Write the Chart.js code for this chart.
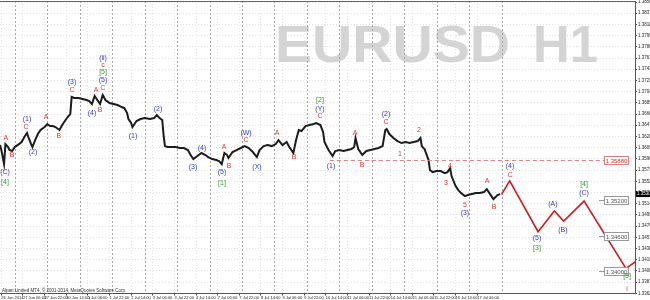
<!DOCTYPE html>
<html><head><meta charset="utf-8">
<script src="https://cdn.jsdelivr.net/npm/chart.js@4"></script>
<style>html,body{margin:0;padding:0;background:#fff;overflow:hidden}</style>
</head><body>
<canvas id="c" width="650" height="300"></canvas>
<script>
// ---------- data ----------
const barIdx = [
 0,1,3,4,6,7,9,11,13,16,
 18,20,21,23,24,26,28,30,33,35,
 37,39,41,44,46,48,50,52,53,55,
 58,61,64,66,68,70,72,74,76,78,
 81,84,87,90,92,94,95,97,98,101,
 104,107,111,114,116,118,120,121,122,124,
 127,130,133,136,139,141,143,145,147,149,
 152,154,157,160,162,164,166,168,169,172,
 175,178,181,184,187,190,192,195,198,201,
 204,206,209,212,214,217,219,221,223,226,
 229,232,234,237,239,240,243,246,248,251,
 254,257,260,262,263,265,268,271,274,277,
 280,283,285,286,288,291,294,297,300,303,
 306,309,311,312,314,317,318,320,323,326,
 329,331,333,334,337,339,341,344,346,349,
 352,355,358,360,362,365,368,370];
const closePrice = [
 1.36134,1.36050,1.35812,1.36151,1.36101,1.36050,1.36033,1.36101,1.36134,1.36185,
 1.36270,1.36338,1.36270,1.36151,1.36101,1.36219,1.36321,1.36389,1.36440,1.36491,
 1.36457,1.36457,1.36440,1.36389,1.36474,1.36542,1.36609,1.36660,1.36949,1.36932,
 1.36932,1.36915,1.36898,1.36881,1.36830,1.36966,1.36898,1.36830,1.36983,1.36898,
 1.36847,1.36830,1.36813,1.36779,1.36762,1.36677,1.36575,1.36508,1.36440,1.36542,
 1.36575,1.36592,1.36575,1.36592,1.36643,1.36592,1.36559,1.36304,1.36117,1.36101,
 1.36101,1.36101,1.36084,1.36084,1.36050,1.35965,1.35897,1.35931,1.35965,1.35999,
 1.35965,1.35931,1.35897,1.35880,1.35863,1.35812,1.35999,1.35965,1.35914,1.36016,
 1.36050,1.36084,1.36117,1.36084,1.36016,1.35931,1.36050,1.36117,1.36134,1.36117,
 1.36151,1.36219,1.36134,1.36185,1.36101,1.35999,1.36219,1.36389,1.36372,1.36457,
 1.36474,1.36491,1.36508,1.36474,1.36355,1.36185,1.36050,1.35948,1.36033,1.36050,
 1.36033,1.36050,1.36067,1.36101,1.36253,1.36067,1.35965,1.36033,1.36050,1.36067,
 1.36084,1.36117,1.36389,1.36406,1.36321,1.36253,1.36202,1.36168,1.36185,1.36168,
 1.36185,1.36202,1.36253,1.36117,1.36067,1.35880,1.35710,1.35676,1.35693,1.35693,
 1.35659,1.35676,1.35744,1.35608,1.35439,1.35371,1.35320,1.35269,1.35286,1.35303,
 1.35320,1.35320,1.35337,1.35388,1.35320,1.35218,1.35286,1.35303];

const forecastIdx   = [371, 377, 398, 410, 417, 432, 463, 471];
const forecastPrice = [1.35298, 1.35529, 1.34664, 1.35015, 1.34845, 1.35184, 1.34043, 1.34172];

const xTickBars = [1,17,33,49,65,81,97,113,129,145,161,177,193,209,225,241,257,273,289,305,321,337,353];
const xTickLabels = ["26 Jun 2014","27 Jun 06:00","27 Jun 22:00","30 Jun 14:00","1 Jul 06:00","1 Jul 22:00",
 "2 Jul 14:00","3 Jul 06:00","3 Jul 22:00","4 Jul 14:00","7 Jul 06:00","7 Jul 22:00","8 Jul 14:00",
 "9 Jul 06:00","9 Jul 22:00","10 Jul 14:00","11 Jul 06:00","11 Jul 22:00","14 Jul 14:00","15 Jul 06:00",
 "15 Jul 22:00","16 Jul 14:00","17 Jul 06:00"];
const daySeparators = [11,35,59,83,107,131,155,179,203,227,251,275,299,323,347,371];
const yTickValues = [1.38560,1.38370,1.38180,1.37990,1.37800,1.37610,1.37420,1.37230,1.37040,
 1.36850,1.36660,1.36470,1.36280,1.36090,1.35900,1.35710,1.35520,1.35330,1.35140,1.34950,
 1.34760,1.34570,1.34380,1.34190,1.34000,1.33810,1.33620];

const levelValues = [1.35880, 1.35200, 1.34600, 1.34000];
const levelTexts  = ["1.35880", "1.35200", "1.34600", "1.34000"];
const levelStartBar = 244;

const redWaves = [["A",4.4,1.36253],["B",8.9,1.35965],["C",19.2,1.36440],["A",34,1.36609],["B",43.6,1.36287],
 ["C",53.3,1.37067],["A",71,1.37067],["B",74,1.36728],["C",76.2,1.37101],["c",76.2,1.37492],
 ["A",165.7,1.36101],["B",169.4,1.35778],["C",182,1.36219],["A",204.9,1.36338],["B",217.5,1.35931],
 ["C",236.7,1.36626],["A",262.6,1.36338],["B",267.8,1.35795],["C",285.5,1.36525],["1",295.9,1.35982],
 ["2",309.9,1.36389],["3",329.9,1.35490],["4",332.8,1.35778],["5",343.9,1.35117],["A",360.2,1.35524],
 ["B",365.4,1.35083],["C",377.2,1.35626],["i",463.8,1.33692]];
const blueWaves = [["(C)",3.7,1.35676],["(1)",20,1.36576],["(2)",24.4,1.36016],["(3)",53.3,1.37203],
 ["(4)",68,1.36677],["(5)",76.2,1.37237],["(ii)",76.2,1.37610],["(1)",98.4,1.36287],["(2)",116.9,1.36745],
 ["(3)",142.8,1.35761],["(4)",149.4,1.36084],["(5)",164.2,1.35676],["(W)",182,1.36338],["(X)",190.1,1.35761],
 ["(Y)",236.7,1.36745],["(1)",244.8,1.35778],["(2)",285.5,1.36660],["(3)",343.9,1.34981],["(4)",377.2,1.35778],
 ["(5)",397.2,1.34557],["(A)",409,1.35134],["(B)",416.4,1.34693],["(C)",432,1.35320]];
const greenWaves = [["[4]",3.7,1.35507],["[5]",76.2,1.37373],["[1]",164.2,1.35490],["[2]",236.7,1.36898],
 ["[3]",397.2,1.34387],["[4]",432,1.35473],["[5]",463.8,1.33912]];

// ---------- drawing ----------
const FONT = '"Liberation Sans", Arial, sans-serif';

function drawFit(ctx, t, x, yb, w) {
  const m = ctx.measureText(t).width;
  ctx.save(); ctx.translate(x, yb); ctx.scale(w / m, 1); ctx.fillText(t, 0, 0); ctx.restore();
}

const overlay = {
  id: 'overlay',
  beforeDraw(chart) {
    const c = chart.ctx; c.save(); c.fillStyle = '#fff'; c.fillRect(0, 0, chart.width, chart.height); c.restore();
  },
  beforeDatasetsDraw(chart) {
    const {ctx, chartArea: a, scales: {x}} = chart;
    ctx.save();
    ctx.fillStyle = '#d4d4d4';
    ctx.font = 'bold 52px ' + FONT;
    ctx.textBaseline = 'alphabetic';
    drawFit(ctx, 'EURUSD', 275, 62, 235);
    drawFit(ctx, 'H1', 533, 62, 65);
    ctx.strokeStyle = '#a6a6a6'; ctx.lineWidth = 1; ctx.setLineDash([2, 2]);
    daySeparators.forEach(b => {
      const px = Math.round(x.getPixelForValue(b)) + 0.5;
      ctx.beginPath(); ctx.moveTo(px, a.top); ctx.lineTo(px, a.bottom); ctx.stroke();
    });
    ctx.restore();
  },
  afterDatasetsDraw(chart) {
    const {ctx, chartArea: a, scales: {x, y}} = chart;
    ctx.save();
    // level lines + boxes
    levelValues.forEach((v, k) => {
      const py = Math.round(y.getPixelForValue(v)) + 0.5;
      const bw = 24, bh = 8, bx = a.right - 31;
      const red = k === 0;
      ctx.lineWidth = 1;
      ctx.strokeStyle = red ? '#e58080' : '#9a9a9a';
      ctx.beginPath();
      if (red) { ctx.setLineDash([4, 3]); ctx.moveTo(x.getPixelForValue(levelStartBar), py); }
      else { ctx.setLineDash([]); ctx.moveTo(bx - 5, py); }
      ctx.lineTo(bx, py); ctx.stroke();
      ctx.setLineDash([]);
      ctx.fillStyle = '#fff';
      ctx.fillRect(bx, py - bh / 2, bw, bh);
      ctx.strokeRect(bx + 0.5, py - bh / 2, bw, bh);
      ctx.fillStyle = red ? '#d03030' : '#555';
      ctx.font = '6px ' + FONT; ctx.textAlign = 'center'; ctx.textBaseline = 'middle';
      ctx.fillText(levelTexts[k], bx + bw / 2 + 0.5, py + 0.5);
    });
    // wave labels
    ctx.font = '7px ' + FONT; ctx.textAlign = 'center'; ctx.textBaseline = 'middle';
    const put = (arr, col) => { ctx.fillStyle = col; arr.forEach(([t, b, p]) => ctx.fillText(t, x.getPixelForValue(b), y.getPixelForValue(p))); };
    put(redWaves, '#e03434');
    put(blueWaves, '#3737d8');
    put(greenWaves, '#2f9a2f');
    // copyright
    ctx.fillStyle = '#333'; ctx.font = '4.5px ' + FONT; ctx.textAlign = 'left';
    ctx.fillText('Alpari Limited MT4, \u00A9 2001-2014, MetaQuotes Software Corp.', a.left + 2, a.bottom - 3);
    ctx.restore();
  },
  afterDraw(chart) {
    const {ctx, chartArea: a, scales: {y}} = chart;
    ctx.save();
    ctx.strokeStyle = '#666'; ctx.lineWidth = 1;
    ctx.beginPath(); ctx.moveTo(0, a.top + 0.5); ctx.lineTo(a.right, a.top + 0.5); ctx.stroke();
    const last = closePrice[closePrice.length - 1];
    const py = y.getPixelForValue(last);
    ctx.fillStyle = '#000'; ctx.fillRect(a.right + 1, py - 3, 15, 6);
    ctx.fillStyle = '#fff'; ctx.font = '4.5px ' + FONT; ctx.textAlign = 'left'; ctx.textBaseline = 'middle';
    ctx.fillText(last.toFixed(5), a.right + 2, py);
    ctx.restore();
  }
};

new Chart(document.getElementById('c'), {
  type: 'line',
  data: {
    datasets: [
      { data: barIdx.map((b, j) => ({x: b, y: closePrice[j]})), borderColor: '#1c1c1c', borderWidth: 2,
        pointRadius: 0, tension: 0 },
      { data: forecastIdx.map((b, j) => ({x: b, y: forecastPrice[j]})), borderColor: '#d41a1a', borderWidth: 1.6,
        pointRadius: 0, tension: 0 }
    ]
  },
  options: {
    responsive: false, animation: false, devicePixelRatio: 1,
    layout: { padding: {top: 1, left: 0, right: 0, bottom: 0} },
    plugins: { legend: {display: false}, tooltip: {enabled: false} },
    scales: {
      x: {
        type: 'linear', min: 0, max: 469.7,
        afterBuildTicks: s => { s.ticks = xTickBars.map(v => ({value: v})); },
        afterFit: s => { s.height = 6.5; s.paddingLeft = 0; s.paddingRight = 0; },
        ticks: { callback: (v, i) => xTickLabels[i], font: {size: 4, family: FONT}, color: '#222',
                 align: 'start', maxRotation: 0, minRotation: 0, autoSkip: false, padding: 0 },
        grid: { color: '#e4e4e4', lineWidth: 1, tickLength: 2, tickColor: '#444', tickBorderDash: [] },
        border: { display: true, color: '#555', width: 1, dash: [1, 2] }
      },
      y: {
        type: 'linear', position: 'right', min: 1.33617, max: 1.38577,
        afterBuildTicks: s => { s.ticks = yTickValues.map(v => ({value: v})); },
        afterFit: s => { s.width = 15; s.paddingTop = 0; s.paddingBottom = 0; },
        ticks: { callback: v => v.toFixed(5), font: {size: 4.5, family: FONT}, color: '#222',
                 autoSkip: false, padding: 1, crossAlign: 'near' },
        grid: { color: '#e0e0e0', lineWidth: 1, tickLength: 2, tickColor: '#444', tickBorderDash: [] },
        border: { display: true, color: '#555', width: 1, dash: [1, 2] }
      }
    }
  },
  plugins: [overlay]
});
</script>
</body></html>
